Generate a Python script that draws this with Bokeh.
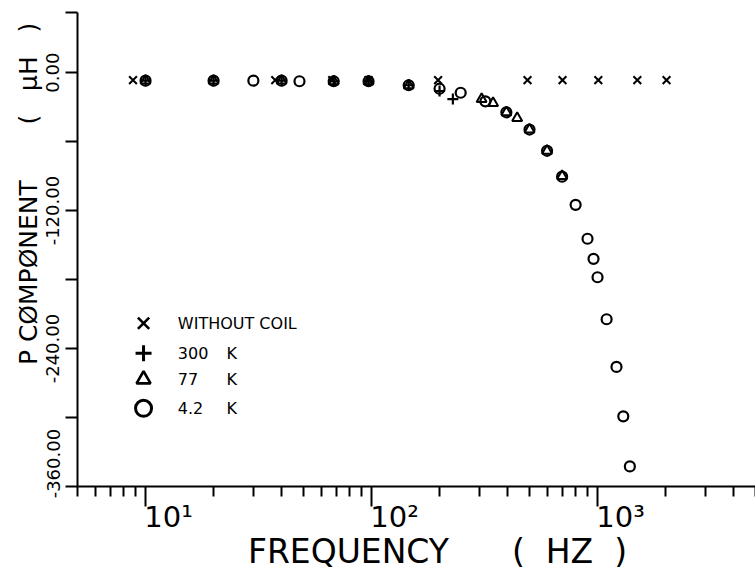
import math
from bokeh.plotting import figure
from bokeh.models import Label, FixedTicker
from bokeh.embed import file_html
from bokeh.resources import INLINE

# ---- data ----
coil_f = [8.8, 37.5, 67, 97, 197, 490, 700, 1008, 1500, 2020]
coil_p = [-6.5, -6.5, -6.5, -6.5, -6.5, -6.5, -6.5, -6.5, -6.5, -6.5]

k300_f = [10, 20, 40, 68, 97, 146, 200, 229]
k300_p = [-7, -7, -7, -7.5, -7.5, -11, -16, -23]

k77_f = [10, 20, 40, 68, 97, 146, 307, 345, 395, 441, 500, 598, 697]
k77_p = [-7, -7, -7, -7.5, -7.5, -11, -23, -26.5, -34.5, -39.5, -49.5, -68, -90]

k42_f = [10, 20, 30, 40, 48, 68, 97, 146, 200, 248, 319, 395, 500, 598, 697,
         800, 903, 960, 1000, 1097, 1213, 1300, 1390]
k42_p = [-7, -7, -7, -7, -7.5, -7.5, -7.5, -11, -14, -17.5, -25, -34.5, -49.5, -68, -90.5,
         -115, -144.5, -162, -178, -214.5, -256, -299, -342.5]

y_ticks = [-360, -300, -240, -180, -120, -60, 0, 52]
y_tick_labels = ["-360.00", "", "-240.00", "", "-120.00", "", "0.00", ""]
x_major = [10, 100, 1000]
x_minor = [5, 6, 7, 8, 9, 20, 30, 40, 50, 60, 70, 80, 90,
           200, 300, 400, 500, 600, 700, 800, 900, 2000, 3000, 4000, 5000]
x_tick_labels = ["10¹", "10²", "10³"]

legend_names = ["WITHOUT COIL", "300", "77", "4.2"]
legend_unit = "K"

NB = "\u00a0"
FONT = "DejaVu Sans"

p = figure(width=755, height=576, x_axis_type="log", x_range=(5, 5000), y_range=(-360, 52.3),
           output_backend="svg", toolbar_location=None,
           min_border_left=77, min_border_right=0, min_border_top=12, min_border_bottom=90)
p.xgrid.visible = False
p.ygrid.visible = False
p.outline_line_color = None
p.background_fill_color = "white"
p.border_fill_color = "white"

for ax in (p.xaxis, p.yaxis):
    ax.axis_line_width = 2
    ax.axis_line_color = "black"
    ax.major_tick_line_width = 2
    ax.minor_tick_line_width = 2
    ax.major_tick_line_color = "black"
    ax.minor_tick_line_color = "black"
    ax.major_tick_in = 0
    ax.minor_tick_in = 0
    ax.major_label_text_font = FONT
    ax.major_label_text_color = "black"
    ax.axis_label_text_font = FONT
    ax.axis_label_text_font_style = "normal"
    ax.axis_label_text_color = "black"

# y axis
p.yaxis.ticker = FixedTicker(ticks=y_ticks)
p.yaxis.major_tick_out = 12
p.yaxis.minor_tick_out = 0
ov = {}
for t, lab in zip(y_ticks, y_tick_labels):
    if t == -360:
        lab = NB * 8 + lab
    ov[t] = lab if lab else NB
p.yaxis.major_label_overrides = ov
p.yaxis.major_label_orientation = "vertical"
p.yaxis.major_label_text_font_size = "18px"
p.yaxis.major_label_standoff = 2
p.yaxis.axis_label = NB * 14 + "P CØMPØNENT" + NB * 7 + "(" + NB * 3 + "μH" + NB * 3 + ")"
p.yaxis.axis_label_text_font_size = "25px"
p.yaxis.axis_label_standoff = -3

# x axis
p.xaxis.ticker = FixedTicker(ticks=x_major, minor_ticks=x_minor)
p.xaxis.major_tick_out = 20
p.xaxis.minor_tick_out = 10
p.xaxis.major_label_overrides = {t: NB * 5 + lab for t, lab in zip(x_major, x_tick_labels)}
p.xaxis.major_label_text_font_size = "29px"
p.xaxis.major_label_standoff = -7
p.xaxis.axis_label = NB * 4 + "FREQUENCY" + NB * 6 + "(" + NB * 2 + "HZ" + NB * 2 + ")"
p.xaxis.axis_label_text_font_size = "33px"
p.xaxis.axis_label_standoff = -5

# data markers
p.scatter(coil_f, coil_p, marker="x", size=11, line_color="black", line_width=2)
p.scatter(k300_f, k300_p, marker="cross", size=11, line_color="black", line_width=2.2)
p.scatter(k77_f, k77_p, marker="triangle", size=10, line_color="black", fill_color=None, line_width=2)
p.scatter(k42_f, k42_p, marker="circle", size=10, line_color="black", fill_color=None, line_width=2.2)

# legend (drawn by hand inside the frame)
leg_x = 9.8
leg_tx = 13.9
leg_kx = 22.8
leg_y = [-218, -244, -266.8, -292]
p.scatter([leg_x], [leg_y[0]], marker="x", size=16, line_color="black", line_width=2.6)
p.scatter([leg_x], [leg_y[1]], marker="cross", size=16, line_color="black", line_width=3)
p.scatter([leg_x], [leg_y[2]], marker="triangle", size=14, line_color="black", fill_color=None, line_width=2.6)
p.scatter([leg_x], [leg_y[3]], marker="circle", size=16, line_color="black", fill_color=None, line_width=3)
for i, (yy, t) in enumerate(zip(leg_y, legend_names)):
    p.add_layout(Label(x=leg_tx, y=yy, text=t, text_align="left", text_baseline="middle",
                       text_font=FONT, text_font_size="16px", text_color="black"))
    if i > 0:
        p.add_layout(Label(x=leg_kx, y=yy, text=legend_unit, text_align="left", text_baseline="middle",
                           text_font=FONT, text_font_size="16px", text_color="black"))

open("out.html", "w").write(file_html(p, INLINE))
